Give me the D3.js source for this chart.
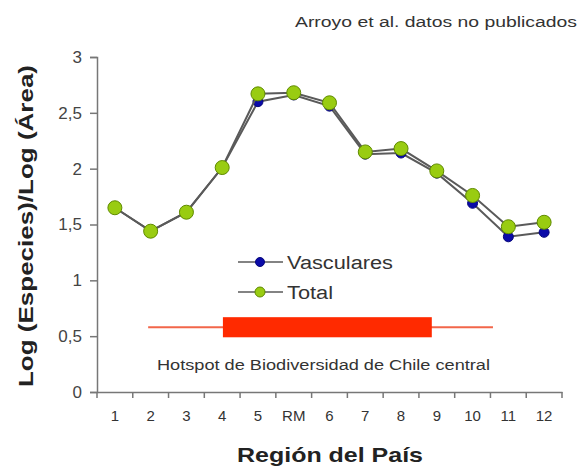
<!DOCTYPE html>
<html>
<head>
<meta charset="utf-8">
<script src="https://cdn.jsdelivr.net/npm/d3@7"></script>
<style>
body { margin: 0; background: #fff; }
svg { display: block; font-family: Arial, "Liberation Sans", sans-serif; }
</style>
</head>
<body>
<script>
// regions, north to south
var regiones = ["1", "2", "3", "4", "5", "RM", "6", "7", "8", "9", "10", "11", "12"];
var total = [1.65, 1.44, 1.61, 2.01, 2.67, 2.68, 2.59, 2.15, 2.18, 1.98, 1.76, 1.48, 1.52];
var vasculares = [1.65, 1.44, 1.61, 2.01, 2.60, 2.66, 2.56, 2.13, 2.14, 1.96, 1.69, 1.39, 1.43];
var yTicks = [0, 0.5, 1, 1.5, 2, 2.5, 3];
// hotspot band, in category units along the axis and value units
var hotspotThin = [1.43, 11.07];
var hotspotThick = [3.52, 9.36];
var hotspotY = [0.49, 0.58, 0.67];

var width = 578, height = 469;
var svg = d3.select("body").append("svg")
    .attr("width", width)
    .attr("height", height);

var x = d3.scaleBand()
    .domain(regiones)
    .range([97, 562]);
var xu = d3.scaleLinear().domain([0, regiones.length]).range([97, 562]);
var y = d3.scaleLinear()
    .domain([0, 3])
    .range([392, 57]);

var fmt = function (d) { return String(d).replace(".", ","); };

// the original picture is a little stretched sideways, so widths are fixed
function stretch(sel, w) {
    return sel.attr("textLength", w).attr("lengthAdjust", "spacingAndGlyphs");
}

// y axis
var yAxis = svg.append("g")
    .attr("transform", "translate(97,0)")
    .call(d3.axisLeft(y).tickValues(yTicks).tickSize(7).tickPadding(8).tickFormat(fmt));
yAxis.select(".domain").attr("stroke", "#777").attr("stroke-width", 1.5);
yAxis.selectAll(".tick line").attr("stroke", "#777").attr("stroke-width", 1.5);
yAxis.selectAll("text").attr("fill", "#444").style("font-size", "17px");

// x axis, ticks between categories
var xAxis = svg.append("g")
    .attr("transform", "translate(0,392)")
    .call(d3.axisBottom(x).tickSize(0).tickPadding(18));
xAxis.select(".domain").attr("stroke", "#777").attr("stroke-width", 1.5);
xAxis.selectAll("text").attr("fill", "#333").style("font-size", "15px");
svg.append("g")
    .selectAll("line")
    .data(d3.range(regiones.length + 1))
    .join("line")
    .attr("x1", d => xu(d))
    .attr("x2", d => xu(d))
    .attr("y1", 392)
    .attr("y2", 398)
    .attr("stroke", "#777")
    .attr("stroke-width", 1.5);

// hotspot band
svg.append("line")
    .attr("x1", xu(hotspotThin[0]))
    .attr("x2", xu(hotspotThin[1]))
    .attr("y1", y(hotspotY[1]))
    .attr("y2", y(hotspotY[1]))
    .attr("stroke", "#f2664a")
    .attr("stroke-width", 2);
svg.append("rect")
    .attr("x", xu(hotspotThick[0]))
    .attr("width", xu(hotspotThick[1]) - xu(hotspotThick[0]))
    .attr("y", y(hotspotY[2]))
    .attr("height", y(hotspotY[0]) - y(hotspotY[2]))
    .attr("fill", "#ff2a00");
stretch(svg.append("text")
    .attr("x", 157)
    .attr("y", 370)
    .attr("fill", "#333")
    .style("font-size", "14px")
    .text("Hotspot de Biodiversidad de Chile central"), 333);

var cx = d => x(d) + x.bandwidth() / 2;
var line = d3.line();

// series
function serie(vals, fill, stroke, r) {
    var pts = regiones.map((d, i) => [cx(d), y(vals[i])]);
    svg.append("path")
        .attr("d", line(pts))
        .attr("fill", "none")
        .attr("stroke", "#5a5a5a")
        .attr("stroke-width", 2);
    svg.append("g")
        .selectAll("circle")
        .data(pts)
        .join("circle")
        .attr("cx", d => d[0])
        .attr("cy", d => d[1])
        .attr("r", r)
        .attr("fill", fill)
        .attr("stroke", stroke)
        .attr("stroke-width", 1);
}
serie(vasculares, "#0a0aa8", "#06067a", 5);
serie(total, "#99cc11", "#5f8a00", 7);

// legend
var legend = [
    { name: "Vasculares", w: 106, fill: "#0a0aa8", stroke: "#06067a", r: 4.5, y: 262 },
    { name: "Total", w: 46, fill: "#99cc11", stroke: "#5f8a00", r: 5, y: 292 }
];
var lg = svg.append("g")
    .selectAll("g")
    .data(legend)
    .join("g")
    .attr("transform", d => `translate(0,${d.y})`);
lg.append("line")
    .attr("x1", 238).attr("x2", 283)
    .attr("stroke", "#5a5a5a").attr("stroke-width", 1.5);
lg.append("circle")
    .attr("cx", 260).attr("r", d => d.r)
    .attr("fill", d => d.fill).attr("stroke", d => d.stroke);
lg.append("text")
    .attr("x", 287).attr("y", 7)
    .attr("fill", "#333")
    .style("font-size", "18px")
    .attr("textLength", d => d.w)
    .attr("lengthAdjust", "spacingAndGlyphs")
    .text(d => d.name);

// titles
stretch(svg.append("text")
    .attr("x", 237)
    .attr("y", 462)
    .attr("fill", "#222")
    .style("font-size", "21px")
    .style("font-weight", "bold")
    .text("Región del País"), 186);
stretch(svg.append("text")
    .attr("transform", "translate(33,387) rotate(-90)")
    .attr("fill", "#222")
    .style("font-size", "20px")
    .style("font-weight", "bold")
    .text("Log (Especies)/Log (Área)"), 322);
stretch(svg.append("text")
    .attr("x", 295)
    .attr("y", 27)
    .attr("fill", "#333")
    .style("font-size", "14px")
    .text("Arroyo et al. datos no publicados"), 282);
</script>
</body>
</html>
